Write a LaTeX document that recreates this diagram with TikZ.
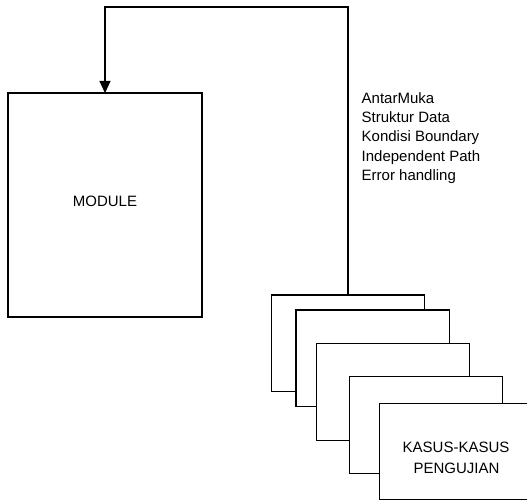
\documentclass[tikz,border=0pt]{standalone}
\usepackage{fontspec}
\setmainfont{Liberation Sans}
\usetikzlibrary{arrows.meta}
\begin{document}
\begin{tikzpicture}[x=1pt,y=-1pt,
  box/.style={draw=black,fill=white,line width=1.1pt,inner sep=0pt,outer sep=0pt,anchor=north west},
  lbl/.style={font=\fontsize{15}{19}\selectfont,inner sep=0pt,anchor=base},
  listlbl/.style={font=\fontsize{15}{19}\selectfont,inner sep=0pt,anchor=base west},
  conn/.style={draw=black,line width=1.1pt}
]
\clip (0,0) rectangle (527,500);
\fill[white] (0,0) rectangle (527,500);
% MODULE box
\node[box,minimum width=194pt,minimum height=224pt] (module) at (8,93) {};
\node[lbl] (moduletext) at (105,206) {MODULE};
% stacked test case sheets
\node[box,minimum width=153pt,minimum height=96.5pt] (b1) at (271.5,295) {};
\node[box,minimum width=153.5pt,minimum height=96.5pt] (b2) at (296,310) {};
\node[box,minimum width=153.5pt,minimum height=96.5pt] (b3) at (316.3,343.7) {};
\node[box,minimum width=153.5pt,minimum height=96.5pt] (b4) at (349.3,376.7) {};
\node[box,minimum width=153.5pt,minimum height=95.8pt] (b5) at (379.7,403.3) {};
\node[lbl] (k1) at (456,452.7) {KASUS-KASUS};
\node[lbl] (k2) at (456.5,473.3) {PENGUJIAN};
% connector
\coordinate (turnR) at (348,7);
\coordinate (turnL) at (105,7);
\draw[conn,-{Triangle[width=11pt,length=12pt]}] (b1.north) -- (turnR) -- (turnL) -- (module.north);
% list of items
\node[listlbl] (l1) at (361.5,103.3) {AntarMuka};
\node[listlbl] (l2) at (361.5,122.5) {Struktur Data};
\node[listlbl] (l3) at (361.5,141.8) {Kondisi Boundary};
\node[listlbl] (l4) at (361.5,161) {Independent Path};
\node[listlbl] (l5) at (361.5,180.2) {Error handling};
\end{tikzpicture}
\end{document}
